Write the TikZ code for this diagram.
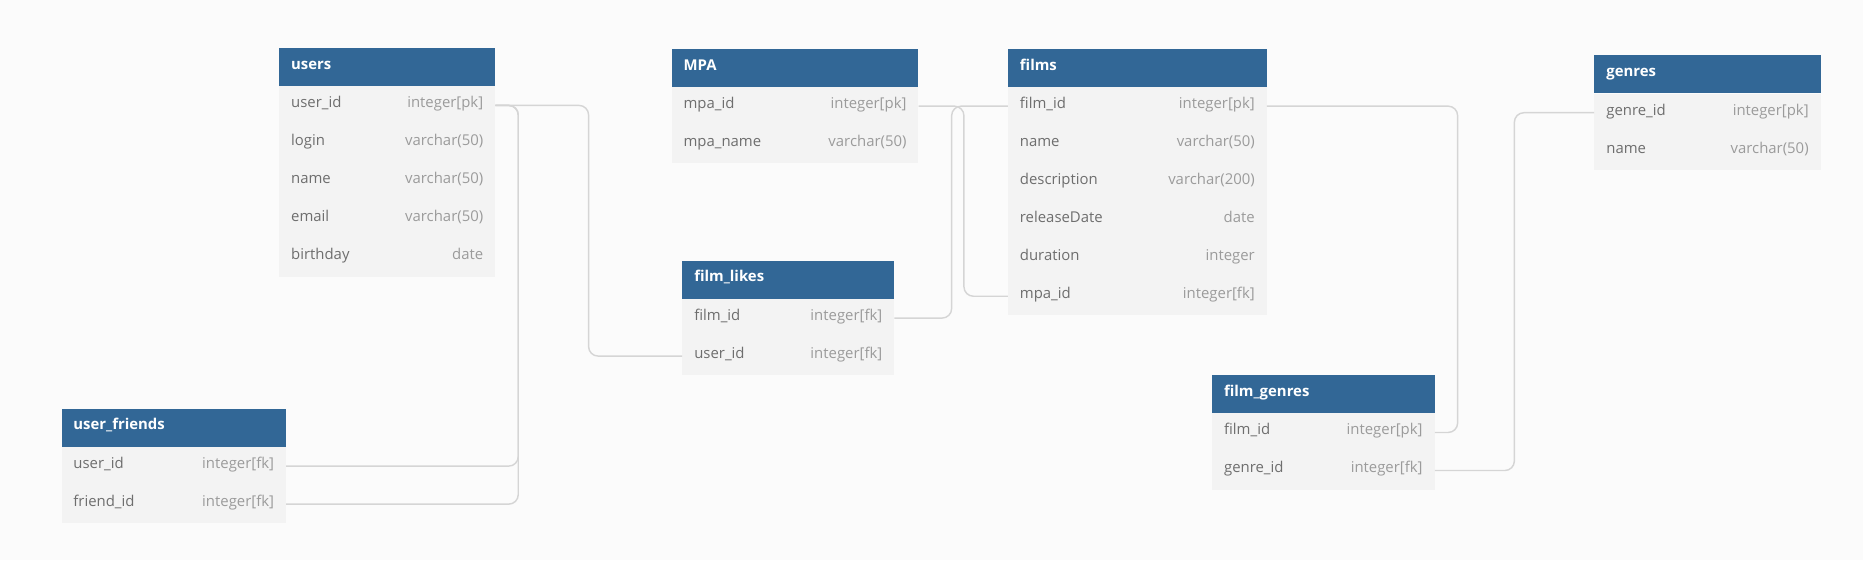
\documentclass[tikz,border=0pt]{standalone}
\usepackage{fontspec}
\setmainfont{Open Sans}
\usepackage{xcolor}
\usetikzlibrary{calc}

\definecolor{headblue}{HTML}{326796}
\definecolor{rowgray}{HTML}{F3F3F3}
\definecolor{namegray}{HTML}{6E6E6E}
\definecolor{typegray}{HTML}{9B9B9B}
\definecolor{linkgray}{HTML}{D5D5D5}
\definecolor{bggray}{HTML}{FBFBFB}

\begin{document}
\begin{tikzpicture}[x=1pt,y=-1pt]
\tikzset{tblhead/.style={fill=headblue,text=white,font=\fontsize{12.5}{15}\selectfont\bfseries,anchor=north west,inner xsep=10pt,inner ysep=0pt,minimum height=31.9pt,text height=8.5pt,text depth=4.5pt,text width=#1}}
\tikzset{tblrow/.style={fill=rowgray,text=namegray,font=\fontsize{12.5}{15}\selectfont,anchor=north west,inner xsep=10pt,inner ysep=0pt,minimum height=31.9pt,text height=8.5pt,text depth=4.5pt,text width=#1}}
\tikzset{link/.style={draw=linkgray,line width=1.2pt,rounded corners=8pt}}

\fill[bggray] (0,0) rectangle (1563,470);
\useasboundingbox (0,0) rectangle (1563,470);

% users
\node[tblhead=161.1] (users) at (234.1,40) {users};
\foreach \fname/\ftype [count=\i] in {user\_id/integer[pk],login/varchar(50),name/varchar(50),email/varchar(50),birthday/date}
  \node[tblrow=161.1] (users-\i) at ($(users.south west)+(0,{(\i-1)*31.9})$) {\fname\hfill\textcolor{typegray}{\ftype}};

% MPA
\node[tblhead=187] (mpa) at (563.3,40.6) {MPA};
\foreach \fname/\ftype [count=\i] in {mpa\_id/integer[pk],mpa\_name/varchar(50)}
  \node[tblrow=187] (mpa-\i) at ($(mpa.south west)+(0,{(\i-1)*31.9})$) {\fname\hfill\textcolor{typegray}{\ftype}};

% films
\node[tblhead=197] (films) at (845.5,40.6) {films};
\foreach \fname/\ftype [count=\i] in {film\_id/integer[pk],name/varchar(50),description/varchar(200),releaseDate/date,duration/integer,mpa\_id/integer[fk]}
  \node[tblrow=197] (films-\i) at ($(films.south west)+(0,{(\i-1)*31.9})$) {\fname\hfill\textcolor{typegray}{\ftype}};

% genres
\node[tblhead=169.7] (genres) at (1337.5,46.1) {genres};
\foreach \fname/\ftype [count=\i] in {genre\_id/integer[pk],name/varchar(50)}
  \node[tblrow=169.7] (genres-\i) at ($(genres.south west)+(0,{(\i-1)*31.9})$) {\fname\hfill\textcolor{typegray}{\ftype}};

% film_likes
\node[tblhead=157.7] (likes) at (572.3,218.4) {film\_likes};
\foreach \fname/\ftype [count=\i] in {film\_id/integer[fk],user\_id/integer[fk]}
  \node[tblrow=157.7] (likes-\i) at ($(likes.south west)+(0,{(\i-1)*31.9})$) {\fname\hfill\textcolor{typegray}{\ftype}};

% user_friends
\node[tblhead=168.3] (uf) at (51.4,342.6) {user\_friends};
\foreach \fname/\ftype [count=\i] in {user\_id/integer[fk],friend\_id/integer[fk]}
  \node[tblrow=168.3] (uf-\i) at ($(uf.south west)+(0,{(\i-1)*31.9})$) {\fname\hfill\textcolor{typegray}{\ftype}};

% film_genres
\node[tblhead=166.5] (fg) at (1016.8,314.4) {film\_genres};
\foreach \fname/\ftype [count=\i] in {film\_id/integer[pk],genre\_id/integer[fk]}
  \node[tblrow=166.5] (fg-\i) at ($(fg.south west)+(0,{(\i-1)*31.9})$) {\fname\hfill\textcolor{typegray}{\ftype}};

% references
\draw[link] (users-1.east) -- ++(19.2,0) |- (uf-1.east);
\draw[link] (users-1.east) -- ++(19.2,0) |- (uf-2.east);
\draw[link] (users-1.east) -- ++(78.2,0) |- (likes-2.west);
\draw[link] (mpa-1.east) -- ++(38,0) |- (films-6.west);
\draw[link] (likes-1.east) -- ++(48,0) |- (films-1.west);
\draw[link] (films-1.east) -- ++(160,0) |- (fg-1.east);
\draw[link] (genres-1.west) -- ++(-67,0) |- (fg-2.east);

\end{tikzpicture}
\end{document}
